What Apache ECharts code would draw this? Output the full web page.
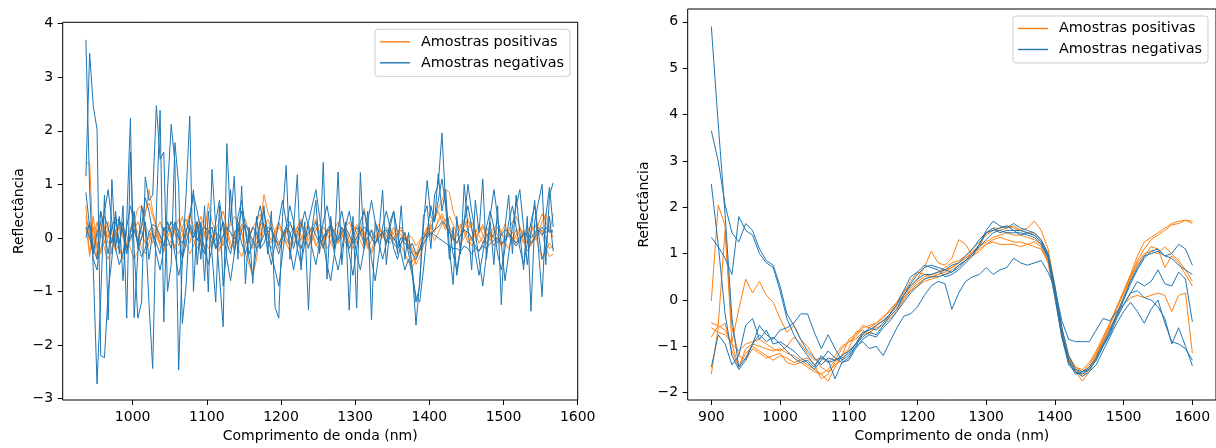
<!DOCTYPE html>
<html><head><meta charset="utf-8">
<script src="https://cdn.jsdelivr.net/npm/echarts@6/dist/echarts.min.js"></script>
<style>html,body{margin:0;padding:0;background:#fff}#c{width:1216px;height:448px}</style>
</head><body><div id="c"></div>
<script>
const BLUE = '#1f77b4', ORANGE = '#ff7f0e';
const FONT = 'DejaVu Sans';
const NAME_POS = 'Amostras positivas', NAME_NEG = 'Amostras negativas';
const X_TITLE = 'Comprimento de onda (nm)', Y_TITLE = 'Reflectância';

// wavelength grids (nm)
const leftWavelengths = []; for (let w = 937; w <= 1567; w += 5) leftWavelengths.push(w);
const rightWavelengths = []; for (let w = 900; w <= 1600; w += 10) rightWavelengths.push(w);

const leftXTicks = [1000, 1100, 1200, 1300, 1400, 1500, 1600];
const leftYTicks = [-3, -2, -1, 0, 1, 2, 3, 4];
const rightXTicks = [900, 1000, 1100, 1200, 1300, 1400, 1500, 1600];
const rightYTicks = [-2, -1, 0, 1, 2, 3, 4, 5, 6];

// ---- left panel ----
const leftPos1 = [
1.40,1.40,-0.20,0.10,-0.30,0.20,0.00,0.25,0.15,-0.20,
-0.40,-0.10,0.20,0.10,0.00,0.20,0.50,0.65,0.40,0.20,
0.00,-0.10,0.15,0.30,0.10,-0.05,0.20,0.35,0.10,0.00,
0.15,0.40,0.20,0.00,-0.10,0.10,0.05,-0.15,0.10,0.25,
0.40,0.30,0.10,-0.10,0.00,0.20,0.30,0.45,0.20,0.00,
-0.10,0.10,0.25,0.15,0.00,-0.15,0.10,0.20,0.05,-0.10,
0.05,0.20,0.35,0.10,-0.05,0.10,0.20,0.00,-0.10,0.05,
0.20,0.30,0.10,-0.10,0.05,0.55,0.20,0.00,-0.15,0.10,
0.15,0.05,-0.10,0.00,0.10,0.20,0.05,-0.05,-0.20,-0.35,
-0.20,0.00,0.15,0.30,0.40,0.55,0.70,0.90,0.85,0.50,
0.30,0.10,0.20,0.35,0.15,0.00,0.10,0.25,0.10,-0.05,
0.05,0.20,0.10,0.00,0.15,0.30,0.40,0.20,0.05,-0.10,
0.10,0.25,0.10,0.30,0.45,0.20,0.00];
const leftPos2 = [
0.60,-0.35,0.40,-0.20,0.30,-0.10,0.20,-0.30,0.10,0.30,
0.00,-0.20,0.10,0.30,0.55,0.60,0.40,0.90,0.50,0.20,
-0.10,0.10,0.30,0.00,-0.20,0.15,0.40,0.10,-0.10,0.20,
0.30,0.00,-0.20,0.10,0.20,-0.05,0.15,0.30,0.10,-0.20,
0.00,0.25,0.10,-0.30,-0.50,-0.70,-0.40,0.20,0.81,0.50,
0.30,0.10,-0.10,0.05,0.20,0.10,-0.10,0.00,0.25,0.15,
-0.05,0.10,0.20,0.00,-0.15,0.05,0.25,0.10,-0.10,0.00,
0.15,-0.05,-0.20,0.00,0.20,0.10,-0.10,-0.25,0.00,0.15,
0.10,-0.05,0.05,0.20,0.00,-0.15,-0.30,-0.45,-0.55,-0.40,
-0.25,-0.05,0.10,0.25,0.15,0.30,0.40,0.20,0.10,0.00,
0.15,0.25,0.10,-0.10,0.00,0.15,0.05,-0.10,0.00,0.10,
0.20,0.05,-0.15,-0.05,0.10,0.00,-0.10,0.05,0.15,0.00,
-0.15,0.00,0.20,0.10,-0.20,-0.35,-0.30];
const leftPos3 = [
0.40,0.10,-0.25,0.20,0.50,0.20,-0.10,0.00,0.15,-0.20,
-0.30,-0.10,0.10,0.25,0.10,-0.20,-0.30,-0.10,0.15,0.05,
-0.15,-0.25,0.00,0.20,0.10,-0.15,0.05,0.25,0.45,0.20,
0.00,-0.15,0.05,0.65,0.30,0.10,-0.20,-0.10,0.15,0.30,
0.10,-0.20,-0.35,-0.15,0.05,0.20,0.10,-0.10,0.15,0.35,
0.20,0.00,-0.20,-0.10,0.10,0.25,0.15,-0.05,-0.20,0.05,
0.20,0.10,-0.10,-0.25,0.00,0.15,0.05,-0.10,0.10,0.20,
0.00,-0.20,-0.10,0.10,0.20,0.05,-0.15,-0.30,-0.10,0.10,
0.00,0.10,0.20,0.05,-0.10,0.00,0.10,-0.20,-0.45,-0.30,
-0.10,0.10,0.00,0.20,0.35,0.50,0.30,0.15,0.40,0.25,
0.10,-0.10,0.00,0.15,0.30,0.10,-0.10,0.00,0.20,0.05,
-0.15,0.00,0.10,0.25,0.05,-0.10,0.05,0.20,-0.05,-0.25,
-0.10,0.05,0.25,0.45,0.30,0.10,0.45];
const leftPos4 = [
0.30,0.00,0.20,-0.40,-0.20,0.10,0.30,0.10,-0.25,-0.10,
0.20,0.05,-0.20,-0.40,-0.25,0.00,0.20,0.10,-0.10,0.15,
0.30,0.10,-0.15,-0.05,0.20,0.35,0.15,-0.10,-0.30,-0.15,
0.10,0.25,0.05,-0.20,-0.10,0.15,0.30,0.50,0.20,-0.10,
-0.20,0.05,0.20,0.35,0.10,-0.15,0.00,0.30,0.20,-0.10,
-0.20,0.05,0.20,0.10,-0.10,-0.25,0.00,0.20,0.35,0.10,
-0.15,-0.05,0.15,0.25,0.05,-0.20,-0.10,0.15,0.30,0.10,
-0.10,0.05,0.25,0.10,-0.05,-0.20,0.00,0.15,0.05,-0.10,
0.05,0.20,0.10,-0.05,0.05,0.15,0.00,-0.10,-0.25,-0.50,
-0.35,-0.15,0.05,0.20,0.10,0.35,0.45,0.30,0.10,-0.05,
0.05,0.20,0.35,0.15,-0.05,0.10,0.25,0.05,-0.10,0.05,
0.15,0.30,0.10,-0.10,-0.20,0.00,0.15,0.05,-0.10,0.10,
0.25,0.10,-0.15,-0.40,-0.25,-0.10,-0.20];
const leftPos5 = [
0.20,-0.30,0.00,0.30,0.10,-0.20,-0.40,-0.20,0.05,0.20,
0.10,-0.15,-0.05,0.15,0.30,0.10,-0.10,0.00,0.20,0.10,
-0.10,0.05,0.20,0.10,-0.20,-0.30,-0.10,0.05,0.15,-0.05,
-0.20,-0.05,0.10,0.20,0.05,-0.15,-0.25,0.00,0.20,0.10,
-0.10,0.10,0.25,0.15,-0.05,-0.20,-0.10,0.05,0.25,0.10,
-0.05,0.15,0.30,0.10,-0.10,0.05,0.20,0.10,-0.05,0.15,
0.25,0.05,-0.15,0.00,0.20,0.10,-0.10,-0.20,0.00,0.15,
0.05,-0.10,0.10,0.25,0.15,0.00,-0.20,-0.05,0.15,0.25,
0.05,-0.10,0.00,0.10,0.15,0.05,-0.05,0.05,0.00,-0.15,
-0.05,0.05,0.20,0.10,-0.05,0.10,0.25,0.35,0.20,0.05,
-0.10,0.05,0.15,0.00,-0.15,-0.05,0.10,0.20,0.05,-0.05,
0.10,-0.05,-0.15,0.00,0.15,0.10,0.00,-0.10,0.05,0.20,
0.10,-0.05,0.05,0.15,0.00,-0.20,-0.15];

const leftNeg1 = [
3.70,0.90,-0.60,-2.73,-1.10,0.80,-1.53,1.09,-0.20,0.40,
-0.80,0.30,2.23,-1.49,-0.30,0.60,0.20,-1.20,-2.44,0.50,
2.38,-1.57,0.90,2.12,1.40,-2.47,-0.40,0.80,2.27,-1.00,
0.30,-0.40,0.60,-1.01,1.28,0.20,-0.70,-1.66,1.76,0.30,
1.15,-0.40,0.97,-0.86,0.20,-0.85,0.40,-0.20,0.60,-0.30,
0.50,-1.30,-1.50,0.40,1.35,-0.40,0.20,1.18,-0.60,0.30,
-1.35,0.20,0.70,-0.30,1.41,-0.77,0.40,-0.20,1.23,-0.50,
0.30,-1.35,0.40,-1.31,1.22,-0.20,0.50,-1.53,0.30,0.10,
0.89,-0.50,0.20,0.50,-0.30,0.60,-0.40,0.10,-0.60,-1.63,
-0.80,0.20,1.07,0.40,0.30,1.20,0.50,0.90,-0.20,-0.87,
0.40,-0.30,1.00,0.20,-0.60,0.70,0.10,1.10,-0.40,0.30,
-0.50,0.60,-1.25,0.20,0.80,-0.30,0.80,0.10,-0.60,0.40,
-1.37,0.30,0.66,1.00,-0.50,0.80,1.03];
const leftNeg2 = [
1.15,3.45,2.45,2.03,-2.20,-2.24,-1.00,-0.40,0.50,-0.30,
0.60,-1.50,1.60,-0.20,-1.50,-1.20,1.14,0.70,0.80,2.47,
1.47,1.60,-1.00,-0.50,1.78,1.00,-1.60,-0.90,0.40,0.90,
-0.50,0.30,-0.80,0.50,-0.30,-1.20,0.60,-0.90,-0.20,0.90,
-0.30,0.40,0.70,0.20,-0.40,-0.70,-0.20,0.30,0.50,0.10,
-0.30,-0.60,-0.90,-0.30,0.20,0.60,0.30,-0.20,-0.50,-0.10,
0.30,0.60,0.90,0.40,-0.10,-0.50,-0.80,-0.30,0.20,0.50,
0.10,-0.30,-0.70,-0.20,0.30,0.50,0.10,-0.40,-0.80,-0.30,
0.20,0.50,0.20,-0.20,-0.40,-0.10,0.10,-0.30,-0.60,-1.20,
-0.90,0.40,0.60,-0.20,0.80,1.00,1.96,0.60,-0.40,0.20,
-0.70,-0.20,0.30,1.00,0.50,0.10,-0.40,-0.90,-0.30,0.40,
0.90,0.40,-0.10,-0.80,-0.30,0.20,0.60,0.90,0.20,-0.50,
0.10,0.70,-0.20,-1.10,0.40,0.95,0.20];
const leftNeg3 = [
0.85,0.20,-0.40,-0.60,0.10,0.50,0.90,0.30,-0.20,-0.50,
-0.30,0.20,0.60,0.30,-0.10,0.20,0.75,0.50,0.10,-0.30,
-0.60,-0.20,0.30,0.10,-0.30,-0.70,-0.40,0.10,0.40,0.80,
0.50,0.10,-0.20,-0.50,-0.20,0.30,0.70,0.20,-0.40,-0.80,
-0.30,0.20,0.50,0.10,-0.30,-0.10,0.30,0.60,0.20,-0.20,
-0.50,-0.10,0.30,0.70,0.30,-0.20,-0.60,-0.20,0.20,0.50,
0.20,-0.20,-0.50,-0.10,0.30,0.60,0.20,-0.30,-0.60,-0.20,
0.20,0.50,0.10,-0.30,-0.60,-0.20,0.30,0.70,0.30,-0.10,
-0.40,-0.10,0.30,0.50,0.10,-0.30,-0.60,-0.40,-0.70,-1.10,
-1.20,-0.60,0.10,0.60,0.30,0.70,1.10,0.60,0.20,-0.30,
-0.60,-0.20,0.30,0.60,0.20,-0.30,-0.70,-0.30,0.20,0.50,
0.20,-0.30,-0.60,-0.20,0.30,0.60,0.20,-0.20,-0.50,-0.10,
0.30,0.60,0.10,-0.40,-0.20,0.40,-0.25];
const leftNeg4 = [
0.20,0.00,-0.30,0.10,0.30,0.40,0.20,-0.10,0.30,0.35,
0.10,-0.20,0.00,0.15,-0.10,-0.35,-0.20,0.10,0.25,0.20,
0.05,-0.15,0.10,0.30,0.20,0.00,-0.10,0.15,0.25,0.10,
-0.05,0.10,0.20,0.15,0.00,-0.20,-0.10,0.05,0.20,0.10,
0.00,-0.10,0.15,0.25,0.10,-0.05,-0.20,-0.10,0.05,0.20,
0.15,0.00,-0.15,0.05,0.20,0.30,0.10,-0.10,-0.20,0.00,
0.10,0.20,0.05,-0.10,0.00,0.15,0.25,0.10,-0.05,0.10,
0.20,0.05,-0.10,0.00,0.10,0.20,0.15,0.00,-0.10,0.05,
0.10,0.15,0.00,-0.10,-0.20,-0.10,0.00,-0.15,-0.30,-0.40,
-0.20,0.00,0.10,0.05,0.15,0.20,0.30,0.25,0.10,0.00,
-0.10,0.05,0.15,0.10,0.00,-0.15,-0.25,-0.10,0.05,0.10,
0.00,-0.10,0.05,0.15,0.10,-0.05,-0.15,-0.05,0.10,0.05,
-0.10,0.00,0.10,0.20,0.10,0.15,0.10];
const leftNeg5 = [
0.00,0.30,-0.20,-0.40,0.50,0.10,-0.30,0.20,0.40,-0.10,
0.30,-0.30,0.10,0.50,-0.20,0.00,0.30,-0.40,0.10,-0.10,
-0.30,0.20,0.00,-0.20,0.30,0.10,-0.40,-0.10,0.20,0.00,
0.30,-0.10,-0.30,0.10,0.20,-0.20,0.00,0.30,-0.10,-0.30,
0.10,0.20,-0.10,-0.30,0.00,0.20,0.10,-0.20,-0.10,0.10,
0.20,-0.10,-0.30,0.00,0.20,0.10,-0.20,0.10,0.30,0.00,
-0.20,0.10,0.30,0.00,-0.20,0.10,0.20,-0.10,0.00,0.20,
0.10,-0.20,0.00,0.20,0.10,-0.10,0.00,0.15,-0.10,0.00,
0.10,-0.10,0.05,0.00,-0.15,0.00,-0.10,-0.20,-0.10,-0.30,
-0.25,-0.10,0.00,0.10,0.05,0.00,-0.05,-0.10,-0.15,-0.20,
-0.20,-0.25,-0.15,-0.20,-0.30,-0.20,-0.25,-0.15,-0.20,-0.10,
-0.05,0.00,-0.10,-0.05,0.05,0.00,-0.10,0.00,0.05,0.10,
0.00,0.10,0.15,0.05,0.20,0.10,0.15];

// ---- right panel ----
const rightPos1 = [
-0.02,2.05,1.60,-0.95,-1.45,-1.05,-0.95,-1.00,-1.05,-1.10,
-1.05,-1.15,-1.20,-1.30,-1.25,-1.40,-1.70,-1.60,-1.35,-1.20,
-0.85,-0.75,-0.55,-0.60,-0.50,-0.40,-0.20,-0.05,0.20,0.30,
0.45,0.70,1.05,0.80,0.75,0.90,1.30,1.20,0.95,1.15,
1.45,1.55,1.55,1.60,1.55,1.50,1.55,1.70,1.50,1.10,
0.30,-0.60,-1.25,-1.55,-1.75,-1.55,-1.25,-0.90,-0.55,-0.20,
0.15,0.50,0.85,1.10,1.30,1.40,1.50,1.62,1.65,1.72,
1.65];
const rightPos2 = [
-0.50,-0.55,1.50,-0.60,-1.20,-1.30,-1.05,-1.15,-1.25,-1.20,
-1.15,-1.35,-1.40,-1.35,-1.45,-1.55,-1.60,-1.75,-1.45,-1.20,
-1.05,-0.70,-0.65,-0.75,-0.55,-0.45,-0.35,-0.20,0.05,0.25,
0.40,0.50,0.55,0.60,0.70,0.80,0.85,0.95,1.10,1.25,
1.40,1.50,1.50,1.55,1.60,1.50,1.45,1.45,1.30,1.00,
0.20,-0.70,-1.30,-1.50,-1.65,-1.50,-1.20,-0.85,-0.50,-0.15,
0.20,0.55,0.95,1.25,1.35,1.45,1.55,1.65,1.70,1.72,
1.70];
const rightPos3 = [
-0.60,-0.70,-0.75,-0.90,-0.20,0.45,0.15,0.40,0.10,-0.05,
-0.40,-0.70,-0.55,-0.85,-1.00,-1.25,-1.45,-1.55,-1.40,-1.30,
-1.10,-0.95,-0.75,-0.70,-0.60,-0.55,-0.40,-0.25,0.00,0.20,
0.30,0.40,0.45,0.50,0.55,0.65,0.75,0.85,0.95,1.05,
1.20,1.30,1.35,1.30,1.25,1.25,1.20,1.25,1.15,0.85,
0.10,-0.80,-1.35,-1.50,-1.60,-1.45,-1.20,-0.95,-0.65,-0.30,
0.05,0.45,0.75,0.95,1.15,1.10,0.70,0.95,0.80,0.55,
0.30];
const rightPos4 = [
-0.80,-0.55,-0.65,-0.95,-1.10,-0.95,-0.90,-0.85,-0.95,-1.05,
-1.10,-1.00,-0.80,-0.95,-1.15,-1.30,-1.25,-1.35,-1.20,-1.00,
-0.90,-0.80,-0.60,-0.55,-0.50,-0.35,-0.25,-0.05,0.15,0.40,
0.60,0.55,0.50,0.55,0.65,0.70,0.80,0.90,1.05,1.15,
1.25,1.35,1.40,1.45,1.40,1.40,1.35,1.30,1.20,0.90,
0.25,-0.60,-1.20,-1.45,-1.55,-1.40,-1.15,-0.85,-0.60,-0.35,
-0.10,0.05,0.10,0.05,0.10,0.15,0.10,-0.25,0.10,0.15,
-1.15];
const rightPos5 = [
-1.60,-0.60,-0.50,-1.10,-1.45,-1.15,-1.00,-1.10,-1.20,-1.30,
-1.20,-1.25,-1.35,-1.30,-1.40,-1.50,-1.60,-1.50,-1.30,-1.05,
-0.90,-0.85,-0.70,-0.65,-0.55,-0.45,-0.30,-0.15,0.05,0.20,
0.35,0.45,0.50,0.55,0.60,0.70,0.80,0.90,1.00,1.10,
1.20,1.25,1.20,1.20,1.20,1.15,1.20,1.15,1.10,0.80,
0.05,-0.75,-1.25,-1.45,-1.50,-1.35,-1.10,-0.80,-0.50,-0.15,
0.15,0.50,0.80,1.00,1.05,1.00,1.15,1.00,0.85,0.65,
0.40];

const rightNeg1 = [
5.90,3.80,1.85,-0.40,-1.45,-1.25,-0.95,-0.75,-0.90,-0.80,
-0.95,-1.10,-1.25,-1.35,-1.30,-1.45,-1.20,-1.35,-1.30,-1.20,
-1.10,-0.95,-0.70,-0.65,-0.55,-0.45,-0.30,-0.10,0.10,0.35,
0.55,0.70,0.75,0.70,0.65,0.60,0.75,0.85,1.00,1.20,
1.50,1.70,1.60,1.55,1.65,1.55,1.50,1.45,1.30,1.00,
0.30,-0.60,-1.20,-1.50,-1.55,-1.45,-1.25,-0.95,-0.65,-0.30,
0.05,0.40,0.70,0.95,1.00,1.05,0.95,1.00,1.20,1.10,
0.75];
const rightNeg2 = [
3.65,3.00,2.05,1.45,1.25,1.65,1.50,1.10,0.85,0.75,
0.30,-0.30,-0.55,-0.85,-1.10,-1.25,-1.40,-1.25,-1.30,-1.25,
-1.15,-0.95,-0.80,-0.70,-0.75,-0.55,-0.35,-0.20,0.10,0.30,
0.45,0.55,0.55,0.60,0.65,0.75,0.80,0.95,1.10,1.30,
1.45,1.50,1.55,1.60,1.50,1.50,1.45,1.40,1.25,0.95,
0.20,-0.70,-1.30,-1.55,-1.60,-1.50,-1.30,-1.00,-0.70,-0.35,
0.00,0.35,0.65,0.90,1.05,1.10,0.95,0.90,0.75,0.65,
0.55];
const rightNeg3 = [
2.50,1.20,-0.30,-1.20,-1.50,-1.30,-0.95,-0.55,-0.75,-0.85,
-0.65,-0.60,-0.50,-0.30,-0.30,-0.70,-1.05,-0.75,-1.05,-1.30,
-1.20,-1.00,-0.90,-1.05,-1.00,-1.20,-0.90,-0.60,-0.35,-0.30,
-0.15,0.10,0.30,0.40,0.35,-0.20,0.15,0.40,0.50,0.55,
0.70,0.55,0.65,0.70,0.90,0.80,0.75,0.80,0.85,0.60,
0.25,-0.45,-0.85,-0.90,-0.90,-0.90,-0.65,-0.40,-0.45,-0.25,
-0.10,0.15,0.40,0.30,0.40,0.65,0.35,0.30,0.60,0.45,
-0.47];
const rightNeg4 = [
1.35,1.15,0.90,0.55,1.80,1.50,1.40,1.00,0.80,0.70,
0.20,-0.40,-0.75,-1.00,-1.20,-1.40,-1.25,-1.30,-1.70,-1.35,
-1.25,-1.00,-0.75,-0.60,-0.65,-0.50,-0.30,-0.10,0.20,0.50,
0.60,0.75,0.70,0.65,0.50,0.55,0.65,0.80,0.95,1.20,
1.45,1.55,1.45,1.50,1.50,1.40,1.45,1.40,1.25,0.95,
0.15,-0.75,-1.35,-1.60,-1.55,-1.50,-1.30,-1.00,-0.75,-0.40,
-0.10,0.15,0.20,0.05,0.00,-0.15,-0.40,-0.95,-0.60,-1.00,
-1.42];
const rightNeg5 = [
-1.45,-0.75,-0.95,-1.40,-1.20,-0.55,-0.40,-0.85,-0.65,-0.95,
-0.90,-1.00,-1.10,-1.25,-1.35,-1.50,-1.30,-1.10,-1.25,-1.35,
-1.30,-1.05,-0.85,-0.75,-0.80,-0.60,-0.45,-0.25,-0.05,0.15,
0.30,0.45,0.50,0.50,0.55,0.60,0.70,0.85,1.00,1.15,
1.30,1.45,1.50,1.45,1.45,1.45,1.40,1.35,1.20,0.90,
0.05,-0.80,-1.40,-1.55,-1.65,-1.55,-1.40,-1.10,-0.80,-0.50,
-0.25,-0.05,-0.25,-0.50,-0.20,0.00,-0.50,-0.90,-0.95,-1.05,
-1.30];

const leftPositives = [leftPos1, leftPos2, leftPos3, leftPos4, leftPos5];
const leftNegatives = [leftNeg1, leftNeg2, leftNeg3, leftNeg4, leftNeg5];
const rightPositives = [rightPos1, rightPos2, rightPos3, rightPos4, rightPos5];
const rightNegatives = [rightNeg1, rightNeg2, rightNeg3, rightNeg4, rightNeg5];

function mk(name, xs, ys, idx, color, w) {
  return {
    type: 'line', name, xAxisIndex: idx, yAxisIndex: idx,
    data: xs.map((x, i) => [x, ys[i]]),
    showSymbol: false, symbol: 'none', silent: true, animation: false,
    lineStyle: { color, width: w }, itemStyle: { color }
  };
}
const series = [];
leftPositives.forEach(s => series.push(mk(NAME_POS, leftWavelengths, s, 0, ORANGE, 0.9)));
leftNegatives.forEach(s => series.push(mk(NAME_NEG, leftWavelengths, s, 0, BLUE, 1)));
rightPositives.forEach(s => series.push(mk(NAME_POS, rightWavelengths, s, 1, ORANGE, 1)));
rightNegatives.forEach(s => series.push(mk(NAME_NEG, rightWavelengths, s, 1, BLUE, 1)));

const fmt = v => (v < 0 ? '\u2212' + (-v) : String(v));
function xAx(idx, min, max, ticks) {
  return {
    type: 'value', gridIndex: idx, min, max,
    axisLine: { show: false, onZero: false },
    axisTick: { show: true, inside: false, length: 5, customValues: ticks, lineStyle: { color: '#000', width: 1 } },
    axisLabel: { customValues: ticks, margin: 10, fontSize: 14, color: '#000', fontFamily: FONT, formatter: fmt },
    splitLine: { show: false },
    name: X_TITLE, nameLocation: 'middle', nameGap: 29,
    nameTextStyle: { fontSize: 14, color: '#000', fontFamily: FONT }
  };
}
function yAx(idx, min, max, ticks) {
  return {
    type: 'value', gridIndex: idx, min, max,
    axisLine: { show: false, onZero: false },
    axisTick: { show: true, inside: false, length: 5, customValues: ticks, lineStyle: { color: '#000', width: 1 } },
    axisLabel: { customValues: ticks, margin: 9.5, fontSize: 14, color: '#000', fontFamily: FONT, formatter: fmt },
    splitLine: { show: false },
    name: Y_TITLE, nameLocation: 'middle', nameGap: 36, nameRotate: 90,
    nameTextStyle: { fontSize: 14, color: '#000', fontFamily: FONT }
  };
}
function lg(left, top) {
  return {
    left, top, orient: 'vertical',
    data: [NAME_POS, NAME_NEG],
    icon: 'rect', itemWidth: 30, itemHeight: 1.4, itemGap: 7,
    padding: [5.5, 6, 6.5, 5],
    backgroundColor: 'rgba(255,255,255,0.8)', borderColor: '#cccccc', borderWidth: 1, borderRadius: 3,
    textStyle: { fontSize: 14.4, lineHeight: 14, color: '#000', fontFamily: FONT, padding: [0, 0, 0, 6] },
    selectedMode: false
  };
}

const chart = echarts.init(document.getElementById('c'), null, { renderer: 'canvas' });
chart.setOption({
  backgroundColor: '#fff',
  animation: false,
  textStyle: { fontFamily: FONT },
  grid: [
    { left: 62.7, top: 22.3, width: 515, height: 383.2, show: true, borderColor: '#000', borderWidth: 1, backgroundColor: 'transparent' },
    { left: 687.7, top: 9, width: 531.3, height: 395.7, show: true, borderColor: '#000', borderWidth: 1, backgroundColor: 'transparent' }
  ],
  xAxis: [xAx(0, 905.7, 1600, leftXTicks), xAx(1, 865.6, 1634.4, rightXTicks)],
  yAxis: [yAx(0, -3.028, 4.026, leftYTicks), yAx(1, -2.158, 6.277, rightYTicks)],
  legend: [lg(375, 29.3), lg(1013, 16)],
  series
});
</script>
</body></html>
